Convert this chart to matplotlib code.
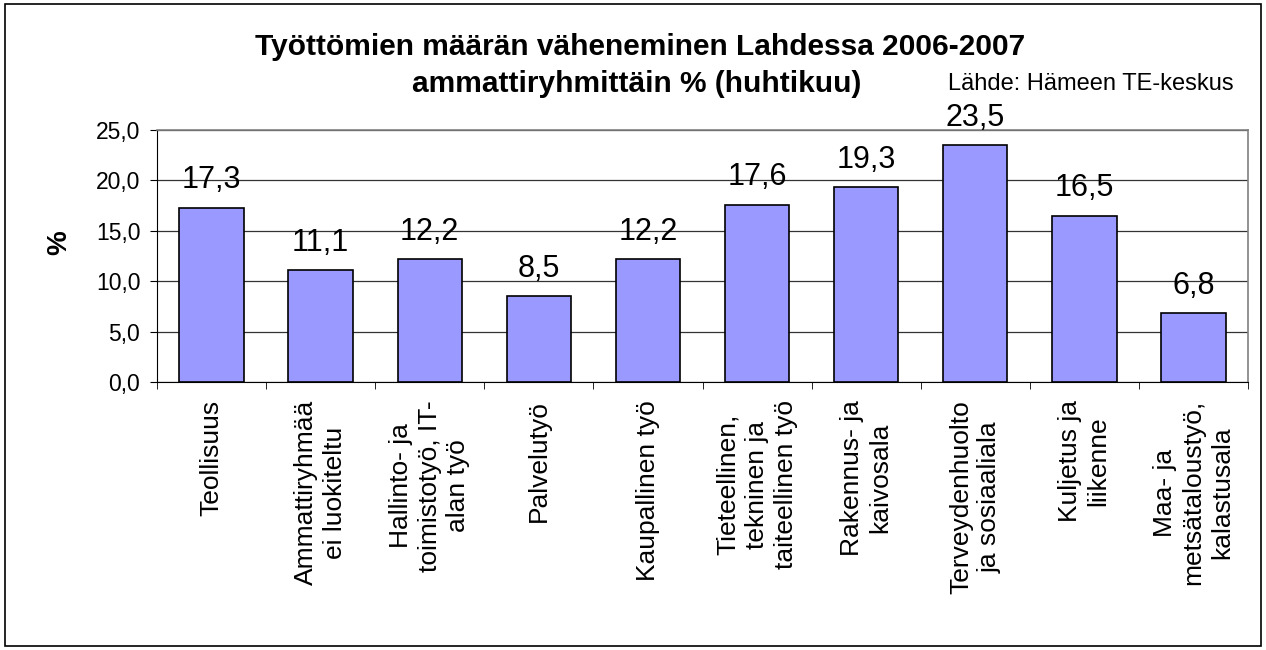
import matplotlib.pyplot as plt
import numpy as np
from matplotlib.patches import Rectangle

plt.rcParams['font.family'] = ['Liberation Sans', 'DejaVu Sans']

categories = ["Teollisuus", "Ammattiryhmää\nei luokiteltu", "Hallinto- ja\ntoimistotyö, IT-\nalan työ",
              "Palvelutyö", "Kaupallinen työ", "Tieteellinen,\ntekninen ja\ntaiteellinen työ",
              "Rakennus- ja\nkaivosala", "Terveydenhuolto\nja sosiaaliala", "Kuljetus ja\nliikenne",
              "Maa- ja\nmetsätaloustyö,\nkalastusala"]
values = [17.3, 11.1, 12.2, 8.5, 12.2, 17.6, 19.3, 23.5, 16.5, 6.8]
yticks = [0, 5, 10, 15, 20, 25]

fig = plt.figure(figsize=(12.66, 6.5), dpi=100)
# plot area: x 157..1248, y 130..382 px
ax = fig.add_axes([157 / 1266, 1 - 382 / 650, (1248 - 157) / 1266, 252 / 650])

x = np.arange(len(values))
ax.bar(x, values, width=0.59, color='#9999FF', edgecolor='black', linewidth=1.2, zorder=3)
for xi, v in zip(x, values):
    ax.annotate(f"{v:.1f}".replace('.', ','), (xi, v), xytext=(0, 14), textcoords='offset points',
                ha='center', va='baseline', fontsize=22, zorder=4)

ax.set_xlim(-0.5, len(values) - 0.5)
ax.set_ylim(0, 25)
ax.set_yticks(yticks)
ax.set_yticklabels([f"{t:.1f}".replace('.', ',') for t in yticks], fontsize=16.5)
ax.yaxis.grid(True, color='#333333', linewidth=0.9, zorder=0)
ax.set_xticks(x)
ax.set_xticklabels(categories, rotation=90, fontsize=19, ha='center', va='top',
                   multialignment='center', linespacing=1.25)
ax.tick_params(axis='x', length=0, pad=13)
ax.set_xticks(np.arange(-0.5, len(values), 1), minor=True)
ax.tick_params(axis='x', which='minor', length=5, color='black')
ax.tick_params(axis='y', length=5, color='black', pad=7)
for side in ['top', 'right']:
    ax.spines[side].set_color('#808080')
    ax.spines[side].set_linewidth(1.2)
ax.spines['left'].set_color('black')
ax.spines['bottom'].set_color('black')

fig.text(59 / 1266, 1 - 243 / 650, '%', rotation=90, ha='center', va='center',
         fontsize=20, fontweight='bold')

fig.text(640 / 1266, 1 - 55 / 650, "Työttömien määrän väheneminen Lahdessa 2006-2007", ha='center',
         va='baseline', fontsize=21.5, fontweight='bold')
fig.text(637 / 1266, 1 - 92 / 650, "ammattiryhmittäin % (huhtikuu)", ha='center', va='baseline',
         fontsize=21.5, fontweight='bold')
fig.text(948 / 1266, 1 - 90 / 650, "Lähde: Hämeen TE-keskus", ha='left', va='baseline', fontsize=17)

fig.patches.append(Rectangle((0.004, 0.006), 0.992, 0.988, transform=fig.transFigure,
                             fill=False, edgecolor='black', linewidth=1.2))

fig.savefig('out.png', dpi=100)
